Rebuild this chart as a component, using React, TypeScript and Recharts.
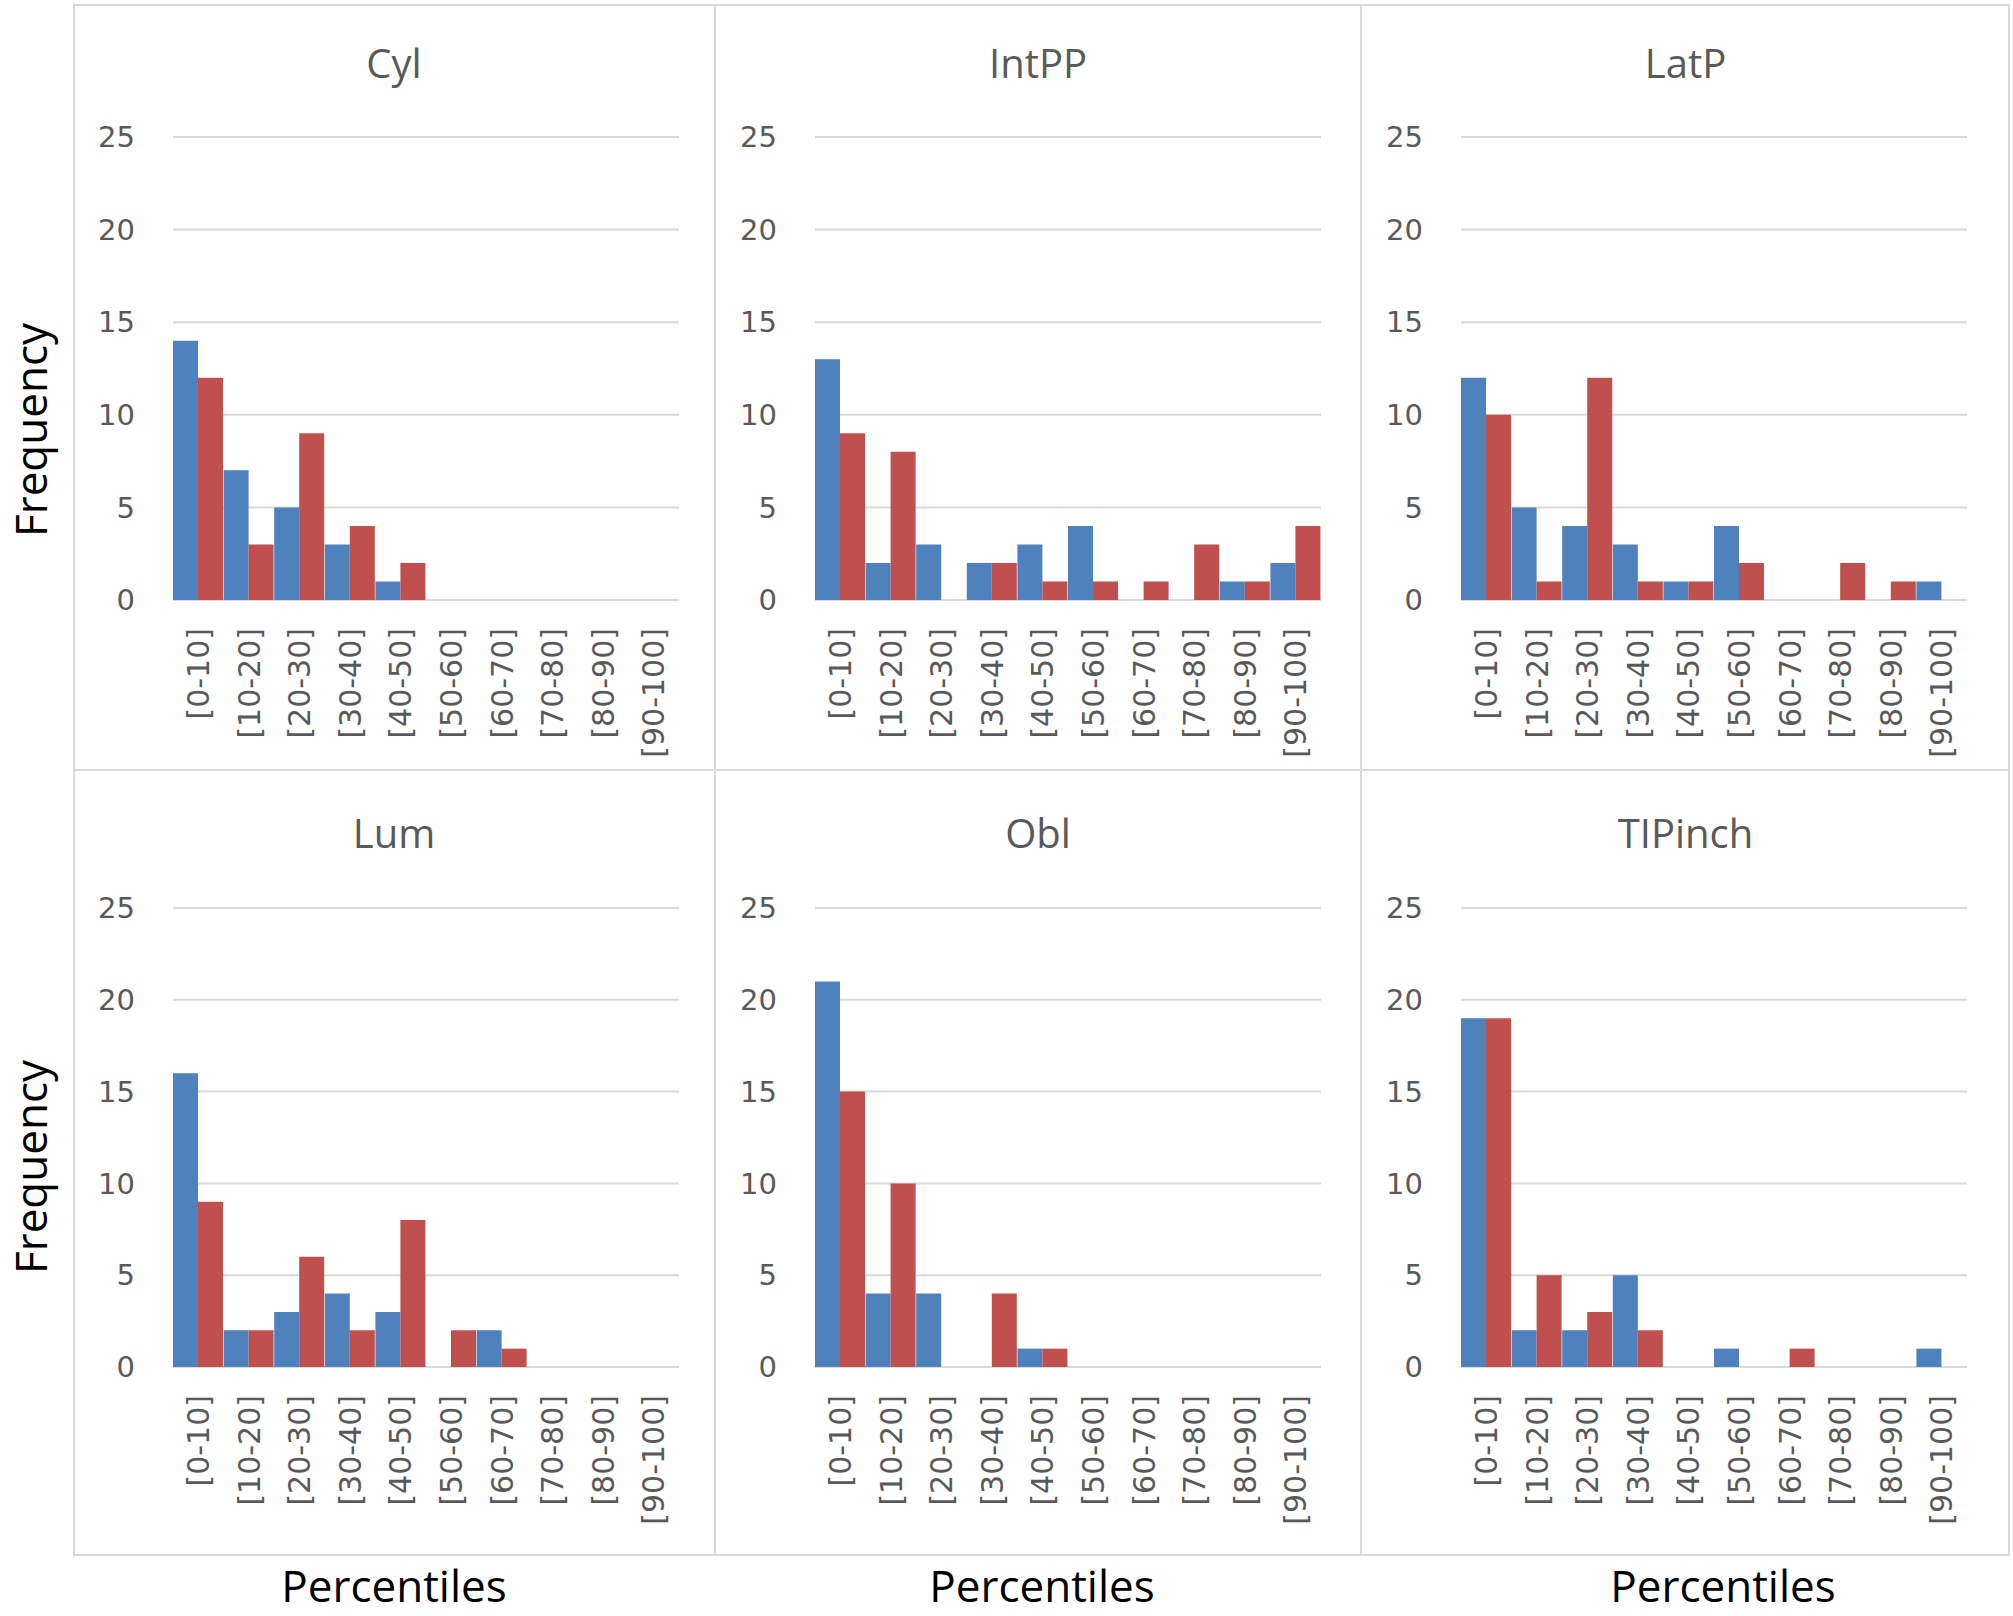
import { BarChart, Bar, XAxis, YAxis, CartesianGrid } from 'recharts';

// Percentile bins shared by every panel
const bins = ['[0-10]', '[10-20]', '[20-30]', '[30-40]', '[40-50]', '[50-60]', '[60-70]', '[70-80]', '[80-90]', '[90-100]'];
const yTicks = [0, 5, 10, 15, 20, 25];

// frequencies per panel: blue series, red series
const cylBlue = [14, 7, 5, 3, 1, 0, 0, 0, 0, 0];
const cylRed = [12, 3, 9, 4, 2, 0, 0, 0, 0, 0];
const intppBlue = [13, 2, 3, 2, 3, 4, 0, 0, 1, 2];
const intppRed = [9, 8, 0, 2, 1, 1, 1, 3, 1, 4];
const latpBlue = [12, 5, 4, 3, 1, 4, 0, 0, 0, 1];
const latpRed = [10, 1, 12, 1, 1, 2, 0, 2, 1, 0];
const lumBlue = [16, 2, 3, 4, 3, 0, 2, 0, 0, 0];
const lumRed = [9, 2, 6, 2, 8, 2, 1, 0, 0, 0];
const oblBlue = [21, 4, 4, 0, 1, 0, 0, 0, 0, 0];
const oblRed = [15, 10, 0, 4, 1, 0, 0, 0, 0, 0];
const tipBlue = [19, 2, 2, 5, 0, 1, 0, 0, 0, 1];
const tipRed = [19, 5, 3, 2, 0, 0, 1, 0, 0, 0];

const BLUE = '#4F81BD';
const RED = '#C0504D';
const GRID = '#d9d9d9';
const TEXT = '#595959';
const TICK_FONT = '"DejaVu Sans", sans-serif';
const LABEL_FONT = '"Open Sans", sans-serif';

// panel frame geometry
const colLeft = [73, 715, 1361];
const colRight = [715, 1361, 2010];
const rowTop = [4, 770];
const rowBottom = [770, 1556];
const plotTop = [137, 908];
const plotBottom = [600, 1367];
const titleTop = [32, 36];
const PLOT_OFFSET = 100;
const PLOT_W = 506;

const XTick = ({ x, y, payload }: any) => (
  <text
    x={x}
    y={y}
    transform={`rotate(-90 ${x} ${y})`}
    textAnchor="end"
    dy="0.36em"
    fill={TEXT}
    fontSize={30}
    fontFamily={TICK_FONT}
  >
    {payload.value}
  </text>
);

function Panel({ title, blue, red, col, row }: any) {
  const data = bins.map((b, i) => ({ bin: b, blue: blue[i], red: red[i] }));
  const left = colLeft[col];
  const top = rowTop[row];
  const width = colRight[col] - left;
  const height = rowBottom[row] - top;
  const mTop = plotTop[row] - top;
  const plotH = plotBottom[row] - plotTop[row];
  const xAxisH = height - mTop - plotH;
  return (
    <div style={{ position: 'absolute', left, top, width, height }}>
      <div
        style={{
          position: 'absolute', left: 0, width, top: titleTop[row],
          textAlign: 'center', fontSize: 40, color: TEXT, fontFamily: LABEL_FONT, lineHeight: '54px',
        }}
      >
        {title}
      </div>
      <BarChart
        width={width}
        height={height}
        data={data}
        margin={{ top: mTop, left: 0, right: width - PLOT_OFFSET - PLOT_W, bottom: 0 }}
        barCategoryGap={0}
        barGap={0}
      >
        <CartesianGrid vertical={false} stroke={GRID} strokeWidth={2} />
        <XAxis
          dataKey="bin"
          height={xAxisH}
          axisLine={false}
          tickLine={false}
          interval={0}
          tickMargin={22}
          tick={<XTick />}
        />
        <YAxis
          width={PLOT_OFFSET}
          domain={[0, 25]}
          ticks={yTicks}
          axisLine={false}
          tickLine={false}
          tickMargin={32}
          tick={{ fontSize: 29, fill: TEXT, fontFamily: TICK_FONT }}
        />
        <Bar dataKey="blue" fill={BLUE} isAnimationActive={false} />
        <Bar dataKey="red" fill={RED} isAnimationActive={false} />
      </BarChart>
    </div>
  );
}

const sideLabel = (text: string, cy: number) => (
  <div
    style={{
      position: 'absolute', left: 30, top: cy, transform: 'translate(-50%, -50%) rotate(-90deg)',
      fontSize: 44, fontFamily: LABEL_FONT, color: '#000', whiteSpace: 'nowrap',
    }}
  >
    {text}
  </div>
);

const bottomLabel = (cx: number) => (
  <div
    style={{
      position: 'absolute', left: cx, top: 1585, transform: 'translate(-50%, -50%)',
      fontSize: 44, fontFamily: LABEL_FONT, color: '#000', whiteSpace: 'nowrap',
    }}
  >
    Percentiles
  </div>
);

export default function App() {
  return (
    <div style={{ position: 'absolute', left: 0, top: 0, width: 2013, height: 1616, background: '#fff', overflow: 'hidden' }}>
      {/* frame lines */}
      <div style={{ position: 'absolute', left: 73, top: 4, width: 1937, height: 1552, border: `2px solid ${GRID}`, boxSizing: 'border-box' }} />
      <div style={{ position: 'absolute', left: 714, top: 4, width: 2, height: 1552, background: GRID }} />
      <div style={{ position: 'absolute', left: 1360, top: 4, width: 2, height: 1552, background: GRID }} />
      <div style={{ position: 'absolute', left: 73, top: 769, width: 1937, height: 2, background: GRID }} />

      <Panel title="Cyl" blue={cylBlue} red={cylRed} col={0} row={0} />
      <Panel title="IntPP" blue={intppBlue} red={intppRed} col={1} row={0} />
      <Panel title="LatP" blue={latpBlue} red={latpRed} col={2} row={0} />
      <Panel title="Lum" blue={lumBlue} red={lumRed} col={0} row={1} />
      <Panel title="Obl" blue={oblBlue} red={oblRed} col={1} row={1} />
      <Panel title="TIPinch" blue={tipBlue} red={tipRed} col={2} row={1} />

      {sideLabel('Frequency', 430)}
      {sideLabel('Frequency', 1167)}
      {bottomLabel(394)}
      {bottomLabel(1042)}
      {bottomLabel(1723)}
    </div>
  );
}
